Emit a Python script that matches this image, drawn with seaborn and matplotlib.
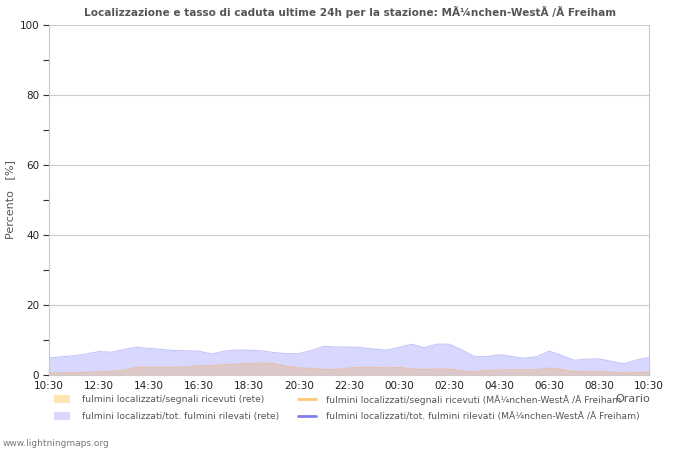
import matplotlib
matplotlib.use("Agg")
import matplotlib.pyplot as plt
from matplotlib.patches import Patch
from matplotlib.lines import Line2D
import seaborn as sns
import numpy as np
import pandas as pd

title = "Localizzazione e tasso di caduta ultime 24h per la stazione: MÃ¼nchen-WestÃ /Ã Freiham"
x_tick_labels = ["10:30", "12:30", "14:30", "16:30", "18:30", "20:30", "22:30",
                 "00:30", "02:30", "04:30", "06:30", "08:30", "10:30"]
y_ticks = [0, 20, 40, 60, 80, 100]
# values every 30 minutes from 10:30 to 10:30 next day
hours = [i * 0.5 for i in range(49)]
net_total = [4.9, 5.2, 5.5, 6.0, 6.7, 6.5, 7.3, 7.9, 7.6, 7.3,
             7.0, 6.9, 6.8, 6.0, 6.8, 7.1, 7.1, 6.9, 6.4, 6.1,
             6.1, 7.0, 8.2, 8.0, 8.0, 7.8, 7.4, 7.1, 7.9, 8.8,
             7.8, 8.8, 8.8, 7.2, 5.3, 5.2, 5.8, 5.3, 4.8, 5.2,
             6.8, 5.6, 4.2, 4.5, 4.6, 3.9, 3.2, 4.3, 5.0]
net_signals = [0.6, 0.6, 0.6, 0.8, 0.9, 1.0, 1.4, 2.2, 2.2, 2.2,
               2.2, 2.3, 2.7, 2.6, 3.0, 3.1, 3.3, 3.4, 3.3, 2.5,
               2.0, 1.9, 1.6, 1.6, 2.0, 2.2, 2.2, 2.0, 2.2, 1.7,
               1.6, 1.7, 1.7, 1.2, 0.9, 1.3, 1.4, 1.5, 1.5, 1.5,
               2.0, 1.6, 1.0, 0.95, 0.95, 0.8, 0.5, 0.75, 0.75]
legend_labels_net = [
    "fulmini localizzati/segnali ricevuti (rete)",
    "fulmini localizzati/tot. fulmini rilevati (rete)",
]
legend_labels_station = [
    "fulmini localizzati/segnali ricevuti (MÃ¼nchen-WestÃ /Ã Freiham",
    "fulmini localizzati/tot. fulmini rilevati (MÃ¼nchen-WestÃ /Ã Freiham)",
]

df = pd.DataFrame({"h": hours, "total": net_total, "signals": net_signals})

sns.set_theme(style="white")
plt.rcParams['font.family'] = ['DejaVu Sans']

fig = plt.figure(figsize=(7, 4.5), dpi=100)
ax = fig.add_axes([49 / 700, 1 - 375 / 450, 600 / 700, 350 / 450])

blue_fill = "#D8D8FF"
blue_edge = "#C4C4FA"
brown_fill = "#DCC8C8"
orange_edge = "#E6C0A8"

ax.fill_between(df["h"], 0, df["total"], color=blue_fill, lw=0, zorder=2)
sns.lineplot(data=df, x="h", y="total", ax=ax, color=blue_edge, lw=0.8, zorder=3)
ax.fill_between(df["h"], 0, df["signals"], color=brown_fill, lw=0, zorder=4)
sns.lineplot(data=df, x="h", y="signals", ax=ax, color=orange_edge, lw=0.8, zorder=5)

ax.set_xlim(0, 24)
ax.set_ylim(0, 100)
ax.set_xticks(np.arange(0, 24.01, 2))
ax.set_xticklabels(x_tick_labels)
ax.set_xticks(np.arange(0, 24.01, 0.5), minor=True)
ax.set_yticks(y_ticks)
ax.set_yticks(np.arange(0, 101, 10), minor=True)
ax.tick_params(axis="x", which="major", direction="in", length=5, width=0.8,
               color="black", labelsize=7.5, labelcolor="#222222", pad=4, bottom=True)
ax.tick_params(axis="x", which="minor", direction="in", length=3, width=0.8,
               color="black", bottom=True)
ax.tick_params(axis="y", which="both", direction="out", length=4, width=0.8,
               color="#333333", labelsize=7.5, labelcolor="#222222", pad=3, left=True)
ax.yaxis.grid(True, which="major", color="#CCCCCC", lw=0.8, zorder=0)
ax.set_axisbelow(True)
for s in ["left", "right", "bottom"]:
    ax.spines[s].set_visible(True)
    ax.spines[s].set_color("#C8C8C8")
    ax.spines[s].set_linewidth(0.8)
ax.spines["top"].set_visible(False)
ax.set_xlabel("")
ax.set_ylabel("")

fig.text(10 / 700, 1 - 200 / 450, "Percento   [%]", ha="center", va="center",
         rotation=90, fontsize=8, color="#555555")
fig.text(0.5, 1 - 12 / 450, title, ha="center", va="center", fontsize=7.6,
         fontweight="bold", color="#555555")
fig.text(650 / 700, 1 - 399 / 450, "Orario", ha="right", va="center",
         fontsize=8, color="#555555")
fig.text(3 / 700, 1 - 443 / 450, "www.lightningmaps.org", ha="left", va="center",
         fontsize=6.5, color="#777777")

h_net = [Patch(facecolor="#FFE3B0", edgecolor="none"),
         Patch(facecolor=blue_fill, edgecolor="none")]
h_sta = [Line2D([], [], color="#FFC870", lw=2),
         Line2D([], [], color="#8080F0", lw=2)]
leg1 = fig.legend(h_net, legend_labels_net, loc="center left",
                  bbox_to_anchor=(54 / 700, 1 - 408 / 450), frameon=False,
                  fontsize=6.6, handlelength=1.75, handleheight=1.0,
                  labelspacing=0.8, handletextpad=1.3, borderpad=0, borderaxespad=0)
leg2 = fig.legend(h_sta, legend_labels_station, loc="center left",
                  bbox_to_anchor=(298 / 700, 1 - 408 / 450), frameon=False,
                  fontsize=6.6, handlelength=2.0, handleheight=1.0,
                  labelspacing=0.8, handletextpad=1.1, borderpad=0, borderaxespad=0)
for leg in (leg1, leg2):
    for t in leg.get_texts():
        t.set_color("#555555")

fig.savefig("out.png", dpi=100)
